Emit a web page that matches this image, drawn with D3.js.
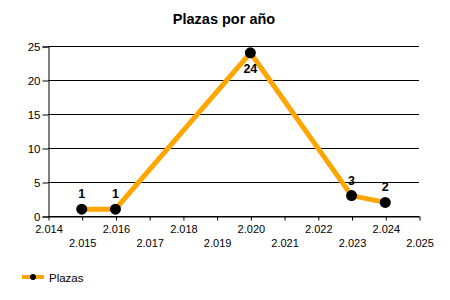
<!DOCTYPE html>
<html>
<head>
<meta charset="utf-8">
<script src="https://cdn.jsdelivr.net/npm/d3@7"></script>
<style>
  body { margin: 0; background: #fff; }
  svg text { font-family: "Liberation Sans", Arial, sans-serif; }
</style>
</head>
<body>
<div id="chart"></div>
<script>
// datos
const years = [2015, 2016, 2020, 2023, 2024];
const plazas = [1, 1, 24, 3, 2];
const labelPos = ["above", "above", "below", "above", "above"];
const xTicks = [2014, 2015, 2016, 2017, 2018, 2019, 2020, 2021, 2022, 2023, 2024, 2025];
const yTicks = [0, 5, 10, 15, 20, 25];

const width = 450;
const height = 300;
const orange = "#FFA500";

const SVG = d3.select("#chart").append("svg")
    .attr("width", width)
    .attr("height", height);

const x = d3.scaleLinear().domain([2014, 2025]).range([48, 419]);
const y = d3.scaleLinear().domain([0, 25]).range([216, 46]);

// titulo
SVG.append("text")
    .attr("x", 224)
    .attr("y", 24)
    .attr("text-anchor", "middle")
    .style("font-size", "14.5px")
    .style("font-weight", "bold")
    .text("Plazas por año");

// lineas de la cuadricula
SVG.append("g")
    .selectAll("line")
    .data(yTicks)
    .join("line")
    .attr("x1", x(2014))
    .attr("x2", x(2025))
    .attr("y1", d => y(d) + 0.5)
    .attr("y2", d => y(d) + 0.5)
    .attr("stroke", "#000")
    .attr("stroke-width", 1);

// eje y
const yAxis = SVG.append("g")
    .attr("transform", `translate(${x(2014) + 0.5},0.5)`)
    .call(d3.axisLeft(y).tickValues(yTicks).tickSize(6).tickPadding(2));
yAxis.select(".domain").attr("stroke", "#000");
yAxis.selectAll("text").style("font-size", "11.5px").attr("fill", "#000")
    .style("font-family", "'Liberation Sans', Arial, sans-serif");

// eje x
const xAxis = SVG.append("g")
    .attr("transform", `translate(0.5,${y(0) + 0.5})`)
    .call(d3.axisBottom(x).tickValues(xTicks).tickSize(4).tickSizeOuter(0)
        .tickFormat(d => d3.format(",")(d).replace(",", ".")));
xAxis.select(".domain").attr("stroke", "#000");
xAxis.selectAll("text")
    .style("font-size", "11px")
    .style("font-family", "'Liberation Sans', Arial, sans-serif")
    .attr("fill", "#000")
    .attr("y", (d, i) => i % 2 === 0 ? 14 : 28.5)
    .attr("dy", "0.2em");

// linea de la serie
const line = d3.line()
    .x((d, i) => x(years[i]))
    .y(d => y(d));

SVG.append("path")
    .datum(plazas)
    .attr("d", line)
    .attr("fill", "none")
    .attr("stroke", orange)
    .attr("stroke-width", 5)
    .attr("stroke-linejoin", "round");

SVG.append("g")
    .selectAll("circle")
    .data(plazas)
    .join("circle")
    .attr("cx", (d, i) => x(years[i]))
    .attr("cy", d => y(d))
    .attr("r", 5.5)
    .attr("fill", "#000");

// etiquetas de valores
SVG.append("g")
    .selectAll("text")
    .data(plazas)
    .join("text")
    .attr("x", (d, i) => x(years[i]))
    .attr("y", (d, i) => labelPos[i] === "above" ? y(d) - 11 : y(d) + 20)
    .attr("text-anchor", "middle")
    .style("font-size", "12.5px")
    .style("font-weight", "bold")
    .text(d => d);

// leyenda
const legend = SVG.append("g").attr("transform", "translate(22,277)");
legend.append("line")
    .attr("x1", 0).attr("x2", 22)
    .attr("stroke", orange).attr("stroke-width", 4);
legend.append("circle").attr("cx", 11).attr("r", 3).attr("fill", "#000");
legend.append("text")
    .attr("x", 27).attr("y", 4.5)
    .style("font-size", "11.5px")
    .text("Plazas");
</script>
</body>
</html>
